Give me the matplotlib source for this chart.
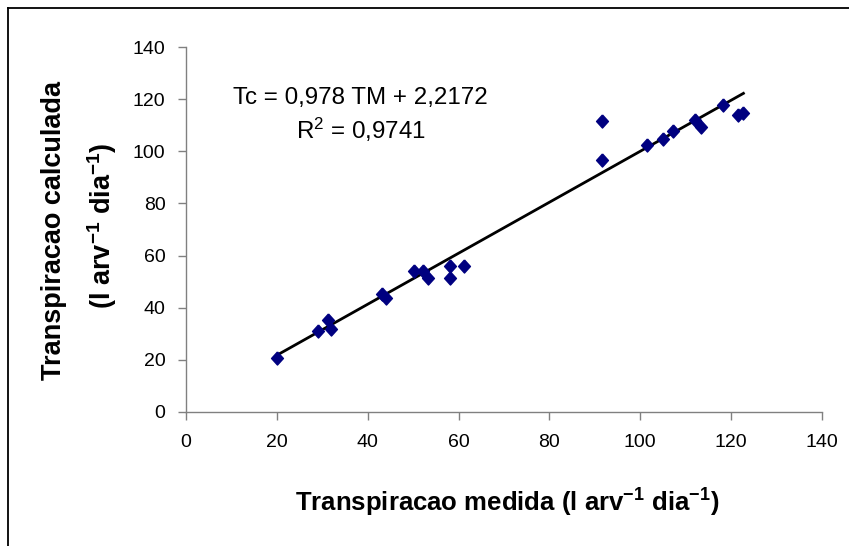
import matplotlib
matplotlib.use("Agg")
import matplotlib.pyplot as plt
from matplotlib.lines import Line2D
import numpy as np

plt.rcParams['font.family'] = ['Liberation Sans', 'DejaVu Sans']
plt.rcParams['mathtext.fontset'] = 'custom'
plt.rcParams['mathtext.rm'] = 'Liberation Sans'
plt.rcParams['mathtext.it'] = 'Liberation Sans:italic'
plt.rcParams['mathtext.bf'] = 'Liberation Sans:bold'
plt.rcParams['mathtext.default'] = 'rm'

# data
tm_medida = [20, 29, 31.3, 32, 43.2, 44.1, 50.2, 52.2, 53.2, 58.2, 58.2, 61.1,
             91.5, 91.5, 101.5, 105, 107.2, 112.1, 113.3, 118.2, 121.5, 122.7]
tc_calculada = [20.7, 30.9, 35.1, 31.9, 45.3, 43.6, 53.9, 54.2, 51.3, 56.0, 51.3, 56.0,
                111.7, 96.8, 102.5, 104.7, 107.9, 112.0, 109.5, 117.8, 113.9, 114.6]
slope = 0.978
intercept = 2.2172
r2_text = "0,9741"
ticks = [0, 20, 40, 60, 80, 100, 120, 140]

W, H = 849, 546
fig = plt.figure(figsize=(W / 100, H / 100), dpi=100)
ax = fig.add_axes([186 / W, 1 - 412 / H, 636 / W, 365 / H])

diamond = [(0, 1.1), (1, 0), (0, -1.1), (-1, 0), (0, 1.1)]
ax.plot(tm_medida, tc_calculada, linestyle='none', marker=diamond,
        markersize=9.4, color='#000080', markeredgecolor='#000080', zorder=3)

xl = np.array([min(tm_medida), max(tm_medida)])
ax.plot(xl, slope * xl + intercept, color='black', lw=2, zorder=2)

ax.set_xlim(0, 140)
ax.set_ylim(0, 140)
ax.set_xticks(ticks)
ax.set_yticks(ticks)
for s in ['top', 'right']:
    ax.spines[s].set_visible(False)
for s in ['left', 'bottom']:
    ax.spines[s].set_color('#808080')
    ax.spines[s].set_linewidth(1)
ax.tick_params(axis='both', direction='out', length=5.8, width=1, color='#808080',
               labelsize=14, labelcolor='black')
ax.tick_params(axis='y', pad=9)
ax.tick_params(axis='x', pad=10)

fig.text(360 / W, 1 - 104 / H, "Tc = 0,978 TM + 2,2172", fontsize=17.4,
         ha='center', va='baseline')
fig.text(361 / W, 1 - 139 / H, "R$^2$ = " + r2_text, fontsize=17.4,
         ha='center', va='baseline')

fig.text(507 / W, 1 - 503 / H,
         r"Transpiracao medida (l arv$^{\mathbf{-1}}$ dia$^{\mathbf{-1}}$)",
         fontsize=18.5, fontweight='bold', ha='center', va='center')
fig.text(54 / W, 1 - 230 / H, "Transpiracao calculada", fontsize=19.5,
         fontweight='bold', rotation=90, ha='center', va='center')
fig.text(102 / W, 1 - 226 / H,
         r"(l arv$^{\mathbf{-1}}$ dia$^{\mathbf{-1}}$)", fontsize=19.5,
         fontweight='bold', rotation=90, ha='center', va='center')

# outer border (left and top)
fig.add_artist(Line2D([8 / W, 8 / W], [0, 1 - 8 / H], transform=fig.transFigure,
                      color='black', lw=1.3))
fig.add_artist(Line2D([8 / W, 1], [1 - 8 / H, 1 - 8 / H], transform=fig.transFigure,
                      color='black', lw=1.3))

fig.savefig("out.png", dpi=100, facecolor='white')
